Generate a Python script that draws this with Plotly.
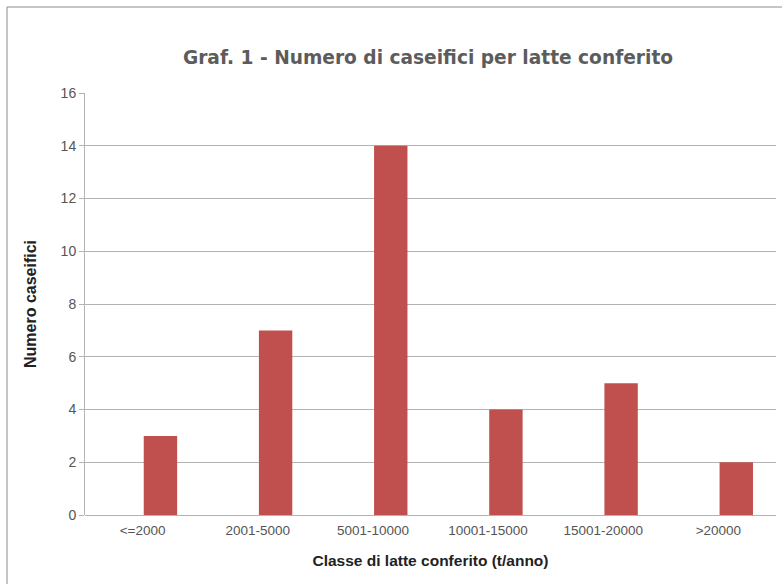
import plotly.graph_objects as go

# Classes of delivered milk (t/year) and number of dairies in each class
classi = ["<=2000", "2001-5000", "5001-10000", "10001-15000", "15001-20000", ">20000"]
caseifici = [3, 7, 14, 4, 5, 2]
y_ticks = [0, 2, 4, 6, 8, 10, 12, 14, 16]

fig = go.Figure()
fig.add_trace(go.Bar(
    x=classi,
    y=caseifici,
    width=0.29,
    offset=0.01,
    marker=dict(color="#c0504d", line=dict(width=0)),
    hoverinfo="x+y",
))

grid = "#b3b3b3"
fig.update_layout(
    width=782,
    height=584,
    paper_bgcolor="white",
    plot_bgcolor="white",
    margin=dict(l=85, r=6, t=93, b=69),
    showlegend=False,
    title=dict(
        text="<b>Graf. 1 - Numero di caseifici per latte conferito</b>",
        font=dict(family="DejaVu Sans", size=18.6, color="#5c5c5c"),
        x=428 / 782, xanchor="center", y=1 - 57 / 584, yanchor="middle",
    ),
    font=dict(family="Liberation Sans", color="#555555"),
)

fig.update_xaxes(
    type="category",
    range=[-0.5, 5.5],
    showgrid=False,
    showline=False,
    ticks="",
    ticklabelstandoff=5,
    tickfont=dict(size=13.5, color="#555555"),
    title=dict(
        text="<b>Classe di latte conferito (t/anno)</b>",
        font=dict(size=15.5, color="#222222"),
        standoff=18,
    ),
)
fig.update_yaxes(
    range=[0, 16],
    tickvals=y_ticks,
    showgrid=True,
    gridcolor=grid,
    gridwidth=1,
    zeroline=True,
    zerolinecolor=grid,
    zerolinewidth=1,
    showline=True,
    linecolor=grid,
    linewidth=1,
    ticks="outside",
    ticklen=5,
    tickcolor=grid,
    tickfont=dict(size=14, color="#555555"),
    title=dict(
        text="<b>Numero caseifici</b>",
        font=dict(size=16, color="#222222"),
        standoff=20,
    ),
)

# Frame around the chart
fig.add_shape(
    type="rect", xref="paper", yref="paper",
    x0=-78 / 691, x1=1.02, y0=-0.2, y1=1 + 86 / 422,
    line=dict(color="#8c8c8c", width=1), fillcolor="rgba(0,0,0,0)",
    layer="below",
)

fig.write_html("out.html")
